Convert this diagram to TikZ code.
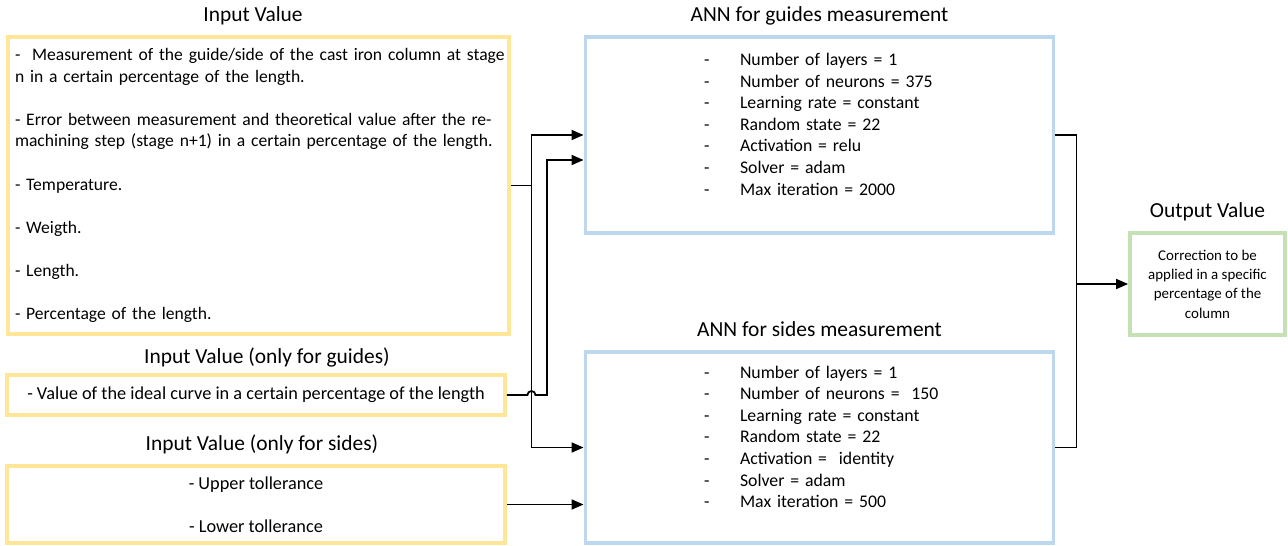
\documentclass[tikz,border=0pt]{standalone}
\usepackage{fontspec}
\setmainfont{Carlito}
\usetikzlibrary{arrows.meta,positioning,calc}
\definecolor{inyellow}{HTML}{FFE699}
\definecolor{annblue}{HTML}{BDD7EE}
\definecolor{outgreen}{HTML}{C5E0B4}
\tikzset{
  inbox/.style={draw=inyellow, line width=2.2pt, font=\fontsize{10.4}{12.3}\selectfont},
  annbox/.style={draw=annblue, line width=2.2pt, minimum width=9.36cm, text width=4.62cm,
                 align=left, font=\fontsize{10.1}{12.3}\selectfont},
  outbox/.style={draw=outgreen, line width=2.2pt, minimum width=3.1cm, minimum height=2.04cm,
                 align=center, font=\fontsize{8.5}{11}\selectfont},
  heading/.style={font=\fontsize{12.2}{15}\selectfont, inner sep=0pt,
                  text height=1.6ex, text depth=0.45ex},
  link/.style={line width=1pt},
  flow/.style={-{Triangle[length=2.4mm, width=2mm]}, line width=1pt},
}
\newcommand{\li}[1]{\mbox{\makebox[0.72cm][l]{-}#1}}

\begin{document}
\begin{tikzpicture}
  \useasboundingbox (0,0) rectangle (25.76,-10.92);
  % inputs
  \node[inbox, minimum width=10.02cm, minimum height=5.94cm, text width=9.74cm, align=left,
        font=\fontsize{10}{12.3}\selectfont] (in1) at (5.17,-3.71)
    {\makebox[9.74cm][s]{-\ \ Measurement of the guide/side of the cast iron column at stage}\\
     n in a certain percentage of the length.\\[12.3pt]
     \makebox[9.74cm][s]{- Error between measurement and theoretical value after the re-}\\
     machining step (stage n+1) in a certain percentage of the length.\\[12.3pt]
     - Temperature.\\[12.3pt]
     - Weigth.\\[12.3pt]
     - Length.\\[12.3pt]
     - Percentage of the length.};
  \node[inbox, minimum width=9.96cm, minimum height=0.8cm, align=center] (in2) at (5.12,-7.90)
    {- Value of the ideal curve in a certain percentage of the length};
  \node[inbox, minimum width=9.96cm, minimum height=1.54cm, align=center] (in3) at (5.12,-10.09)
    {- Upper tollerance\\[12.3pt] - Lower tollerance};
  \node[heading, above=0.19cm of in1, xshift=-0.11cm] (tin1) {Input Value};
  \node[heading, above=0.11cm of in2, xshift=0.22cm] (tin2) {Input Value (only for guides)};
  \node[heading, above=0.19cm of in3, xshift=0.12cm] (tin3) {Input Value (only for sides)};
  % networks
  \node[annbox, minimum height=3.92cm] (annG) at (16.39,-2.70)
    {\li{Number of layers = 1}\\
     \li{Number of neurons = 375}\\
     \li{Learning rate = constant}\\
     \li{Random state = 22}\\
     \li{Activation = relu}\\
     \li{Solver = adam}\\
     \li{Max iteration = 2000}\\ \mbox{}};
  \node[annbox, minimum height=3.82cm] (annS) at (16.39,-8.95)
    {\li{Number of layers = 1}\\
     \li{Number of neurons =\ \ 150}\\
     \li{Learning rate = constant}\\
     \li{Random state = 22}\\
     \li{Activation =\ \ identity}\\
     \li{Solver = adam}\\
     \li{Max iteration = 500}\\ \mbox{}};
  \node[heading, above=0.19cm of annG] (tannG) {ANN for guides measurement};
  \node[heading, above=0.19cm of annS] (tannS) {ANN for sides measurement};
  % output
  \node[outbox] (out) at (24.15,-5.68)
    {Correction to be\\ applied in a specific\\ percentage of the\\ column};
  \node[heading, above=0.19cm of out] (tout) {Output Value};
  % connectors
  \draw[link] (in1.east) -- ++(0.41,0) coordinate (j1);
  \draw[flow] (j1) |- (annG.west);
  \draw[flow] (j1) |- (annS.west);
  \coordinate (hop) at (j1 |- in2.east);
  \draw[flow] (in2.east) -- ([xshift=-0.08cm]hop) arc[start angle=180, end angle=0, radius=0.08cm]
    -- ++(0.23,0) |- ([yshift=-0.5cm]annG.west);
  \draw[flow] (in3.east) -- (in3.east -| annS.west);
  \draw[link] (annG.east) -- ++(0.42,0) coordinate (k1) -- (k1 |- annS.east) -- (annS.east);
  \draw[flow] (k1 |- out.west) -- (out.west);
\end{tikzpicture}
\end{document}
